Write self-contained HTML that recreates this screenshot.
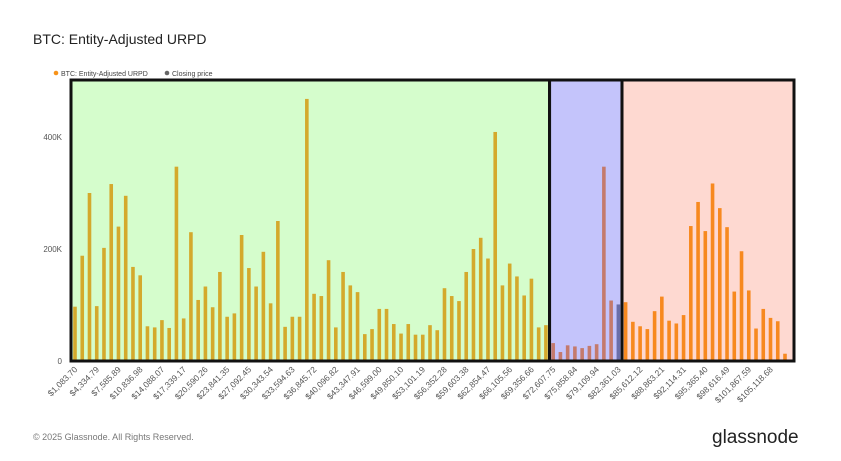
<!DOCTYPE html>
<html><head><meta charset="utf-8"><style>
body{margin:0;background:#fff;font-family:"Liberation Sans",sans-serif;}
svg{display:block}
</style></head><body>
<svg id="c" width="841" height="461" xmlns="http://www.w3.org/2000/svg">
<text x="33" y="44" font-size="14" fill="#222">BTC: Entity-Adjusted URPD</text>
<g>
<circle cx="56" cy="73" r="2.3" fill="#f7931a"/>
<text x="61" y="76" font-size="7" fill="#444">BTC: Entity-Adjusted URPD</text>
<circle cx="167" cy="73" r="2.3" fill="#666"/>
<text x="172" y="76" font-size="7" fill="#444">Closing price</text>
</g>
<g id="bg"></g><g id="bars"></g><g id="frames"></g><g id="axes"></g>
<text x="33" y="440" font-size="9" fill="#777">© 2025 Glassnode. All Rights Reserved.</text>
<text x="712" y="443" font-size="19" fill="#222">glassnode</text>
</svg>
<script>
const values=[97,188,300,98,202,316,240,295,168,153,62,60,73,59,347,76,230,109,133,96,159,79,85,225,166,133,195,103,250,61,79,79,468,120,
116,180,60,159,135,123,48,57,93,93,66,49,66,47,47,64,55,130,116,107,159,200,220,183,409,135,174,151,117,147,60,64,
32,16,28,26,23,27,30,347,108,101,
105,70,62,57,89,115,72,67,82,241,284,232,317,273,239,124,196,126,58,93,77,71,13];
const binStart=1083.70, binEnd=105118.68;
const yTicks=[0,200,400];
const yTickLabels=["0","200K","400K"];
const regions=[{from:0,to:66,fill:"#d5fdcc",bar:"#d4a92c",name:"green-zone"},{from:66,to:76,fill:"#c4c4fb",bar:"#c47a6c",name:"blue-zone"},{from:76,to:99,fill:"#fed9d1",bar:"#f7891f",name:"red-zone"}];
const NS="http://www.w3.org/2000/svg";
const x0=75,x1=785,yBase=361,yTop=80,left=71,right=794;
const n=values.length;
const binStep=(binEnd-binStart)/96;
const xs=i=>x0+i*(x1-x0)/(n-1);
const ys=v=>yBase-v*112/200;
function mk(t,a,p){const e=document.createElementNS(NS,t);for(const k in a)e.setAttribute(k,a[k]);p.appendChild(e);return e;}
const bg=document.getElementById('bg'),bars=document.getElementById('bars'),fr=document.getElementById('frames'),ax=document.getElementById('axes');
regions.forEach((r,ri)=>{
 const xa=ri==0?left:(xs(r.from-1)+xs(r.from))/2;
 const xb=ri==regions.length-1?right:(xs(r.to-1)+xs(r.to))/2;
 const rect=mk('rect',{x:xa,y:yTop,width:xb-xa,height:yBase-yTop,fill:r.fill},bg);
 
 
 const f=mk('rect',{x:xa,y:yTop,width:xb-xa,height:yBase-yTop,fill:'none',stroke:'#111','stroke-width':3},fr);
 
 
});
values.forEach((v,i)=>{
 const r=regions.find(r=>i>=r.from&&i<r.to);
 let col=r.bar; if(i==75) col="#6a6ea8";
 const b=mk('rect',{x:xs(i)-1.8,y:ys(v*1),width:3.6,height:yBase-ys(v*1),fill:col},bars);
 
 
});
yTicks.forEach((t,i)=>{
 const tx=mk('text',{x:62,y:ys(t)+3,'font-size':8,fill:'#555','text-anchor':'end'},ax);
 tx.textContent=yTickLabels[i];
 
 
});
for(let i=0;i<n;i+=3){
 const val=binStart+i*binStep;
 const s='$'+val.toLocaleString('en-US',{minimumFractionDigits:2,maximumFractionDigits:2});
 const px=xs(i)+3,py=yBase+9;
 const tx=mk('text',{x:px,y:py,'font-size':8.5,fill:'#555','text-anchor':'end',transform:`rotate(-45 ${px} ${py})`},ax);
 tx.textContent=s;
 
 
}
</script>
</body></html>
